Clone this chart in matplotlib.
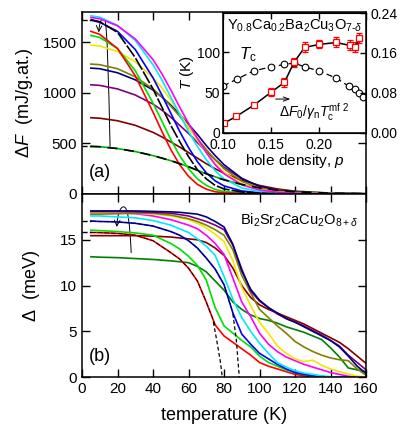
import numpy as np
import matplotlib
matplotlib.use('Agg')
import matplotlib.pyplot as plt
from matplotlib.path import Path
from matplotlib.patches import FancyArrowPatch

plt.rcParams['font.family'] = ['Liberation Sans', 'DejaVu Sans']
plt.rcParams['mathtext.fontset'] = 'custom'
plt.rcParams['mathtext.rm'] = 'Liberation Sans'
plt.rcParams['mathtext.it'] = 'Liberation Sans:italic'
plt.rcParams['mathtext.bf'] = 'Liberation Sans:bold'

# ---------------- panel (a): condensation free energy ----------------
T_a = [5, 10, 20, 30, 40, 45, 50, 55, 60, 65, 70, 75, 80, 90, 100, 110, 120, 140, 160]
F_cyan    = [1764, 1750, 1670, 1520, 1280, 1130, 960, 790, 620, 470, 340, 230, 150, 60, 25, 12, 6, 2, 0]
F_magenta = [1747, 1735, 1665, 1535, 1330, 1190, 1030, 860, 700, 550, 410, 290, 200, 90, 40, 18, 9, 3, 1]
F_black   = [1727, 1705, 1600, 1350, 1040, 860, 680, 520, 370, 240, 150, 85, 50, 20, 8, 4, 2, 0, 0]
F_blue    = [1720, 1700, 1610, 1430, 1150, 980, 800, 620, 460, 320, 210, 130, 80, 30, 12, 5, 3, 1, 0]
F_red     = [1610, 1580, 1440, 1170, 810, 620, 440, 290, 175, 95, 48, 22, 12, 6, 3, 2, 1, 0, 0]
F_green   = [1570, 1550, 1440, 1220, 900, 720, 540, 380, 250, 150, 85, 45, 25, 10, 5, 3, 2, 0, 0]
F_yellow  = [1474, 1465, 1410, 1310, 1150, 1050, 930, 800, 660, 530, 410, 300, 215, 100, 45, 20, 10, 3, 1]
F_olive   = [1286, 1280, 1240, 1160, 1040, 960, 870, 770, 660, 550, 440, 340, 250, 125, 60, 28, 14, 4, 1]
F_navy    = [1246, 1240, 1200, 1130, 1030, 960, 880, 790, 690, 590, 480, 380, 290, 155, 75, 35, 17, 5, 2]
F_purple  = [1081, 1075, 1040, 980, 890, 830, 760, 680, 600, 510, 420, 340, 265, 150, 75, 36, 18, 5, 2]
F_maroon  = [755, 750, 725, 680, 610, 565, 515, 465, 410, 355, 300, 250, 205, 135, 85, 50, 28, 9, 3]
F_green2  = [471, 468, 450, 420, 380, 355, 330, 300, 270, 235, 200, 170, 140, 95, 60, 37, 22, 8, 3]

# ---------------- panel (b): gap ----------------
T_b = [5, 10, 20, 30, 40, 50, 55, 60, 65, 70, 75, 80, 85, 90, 95, 100, 105, 110, 115, 120, 125, 130, 135, 140, 145, 150, 155, 160]
D_navy    = [18.15, 18.15, 18.15, 18.15, 18.1, 18.05, 18.0, 17.9, 17.8, 17.5, 17.0, 16.4, 14.5, 11.6, 9.6, 8.4, 7.6, 7.0, 6.4, 6.0, 5.5, 5.0, 4.5, 4.0, 3.3, 2.3, 1.2, 0.4]
D_purple  = [18.1, 18.1, 18.1, 18.05, 18.0, 17.9, 17.75, 17.6, 17.3, 17.0, 16.6, 16.1, 14.4, 11.8, 9.4, 8.3, 7.6, 6.9, 6.4, 6.0, 5.6, 5.1, 4.6, 4.0, 3.4, 2.4, 1.6, 0.8]
D_magenta = [18.0, 18.0, 17.95, 17.85, 17.6, 17.2, 16.9, 16.6, 16.2, 15.5, 14.6, 13.4, 10.8, 8.2, 6.6, 4.8, 3.6, 2.8, 2.2, 1.8, 1.4, 1.1, 0.8, 0.5, 0.3, 0.1, 0.0, 0.0]
D_yellow  = [17.9, 17.9, 17.9, 17.9, 17.8, 17.6, 17.4, 17.2, 16.8, 16.3, 15.6, 14.8, 12.7, 9.8, 7.8, 6.0, 4.8, 3.4, 2.6, 2.0, 1.7, 1.85, 1.3, 0.9, 0.6, 0.35, 0.1, 0.0]
D_olive   = [17.8, 17.8, 17.85, 17.9, 17.9, 17.7, 17.5, 17.3, 17.0, 16.6, 16.1, 15.5, 13.9, 11.1, 9.2, 7.4, 6.5, 5.6, 4.8, 3.9, 3.3, 2.8, 2.4, 2.1, 1.9, 1.8, 0.9, 0.2]
D_cyan    = [17.6, 17.6, 17.5, 17.4, 17.1, 16.6, 16.2, 15.8, 15.1, 14.3, 13.3, 11.0, 8.5, 6.5, 5.0, 3.7, 2.6, 1.6, 1.1, 0.7, 0.45, 0.3, 0.15, 0.05, 0.0, 0.0, 0.0, 0.0]
D_blue    = [17.05, 17.0, 16.95, 16.8, 16.5, 15.9, 15.5, 14.9, 14.1, 13.0, 11.8, 10.1, 7.0, 4.7, 3.6, 2.6, 2.0, 1.4, 0.9, 0.5, 0.3, 0.15, 0.05, 0.0, 0.0, 0.0, 0.0, 0.0]
D_green   = [16.05, 16.0, 15.9, 15.75, 15.5, 14.6, 14.0, 13.2, 12.2, 10.6, 7.6, 5.6, 4.8, 4.0, 3.3, 2.3, 1.6, 1.2, 0.8, 0.5, 0.3, 0.1, 0.0, 0.0, 0.0, 0.0, 0.0, 0.0]
D_red     = [15.8, 15.78, 15.7, 15.5, 14.9, 13.6, 12.9, 11.9, 10.5, 8.2, 5.7, 4.5, 3.8, 3.1, 2.4, 1.6, 1.2, 0.9, 0.6, 0.3, 0.15, 0.05, 0.0, 0.0, 0.0, 0.0, 0.0, 0.0]
D_maroon  = [15.45, 15.45, 15.45, 15.45, 15.4, 15.3, 15.2, 15.1, 15.0, 14.7, 14.1, 13.3, 11.9, 10.0, 8.7, 7.9, 7.4, 7.0, 6.6, 6.2, 5.8, 5.3, 4.8, 4.3, 3.8, 3.1, 2.3, 1.5]
D_dgreen  = [13.15, 13.1, 13.05, 12.95, 12.85, 12.7, 12.6, 12.5, 12.1, 11.5, 10.5, 9.5, 8.2, 7.4, 6.8, 6.4, 6.2, 5.9, 5.5, 5.2, 4.9, 4.5, 4.1, 3.2, 2.2, 1.0, 0.8, 0.6]

# dashed fits near Tc
T_redfit = [74, 76, 78, 79]
D_redfit = [6.0, 3.9, 1.6, 0.0]
T_bluefit = [85, 86.9, 87.8, 88.6]
D_bluefit = [6.9, 4.1, 1.9, 0.0]

# ---------------- inset: YCaBCO ----------------
p_tc = [0.100, 0.115, 0.132, 0.150, 0.164, 0.174, 0.185, 0.200, 0.218, 0.231, 0.237, 0.242, 0.246]
Tc   = [58, 67, 77, 82, 85, 87, 82, 77, 68, 58, 54, 50, 45]
p_sq = [0.101, 0.114, 0.132, 0.150, 0.164, 0.174, 0.185, 0.200, 0.218, 0.232, 0.238, 0.242]
dF0  = [0.019, 0.033, 0.055, 0.081, 0.101, 0.141, 0.171, 0.177, 0.181, 0.175, 0.172, 0.189]
dF0_err = [0.003, 0.003, 0.004, 0.008, 0.009, 0.009, 0.010, 0.008, 0.010, 0.010, 0.010, 0.010]

fig = plt.figure(figsize=(4.09, 4.34), dpi=100)
axa = fig.add_axes([0.2005, 0.553, 0.6945, 0.419])
axb = fig.add_axes([0.2005, 0.131, 0.6945, 0.422])

lw = 1.2
curves_a = [(F_maroon, '#800000'), (F_green2, '#00b000'), (F_purple, '#800080'),
            (F_navy, '#000080'), (F_olive, '#808000'), (F_yellow, '#f2e600'),
            (F_green, '#00e000'), (F_red, '#ff0000'), (F_blue, '#0000ff'),
            (F_cyan, '#00e8ff'), (F_magenta, '#ff00ff')]
for F, c in curves_a:
    axa.plot(T_a, F, color=c, lw=lw)
axa.plot(T_a, F_black, color='black', lw=lw, dashes=(8, 1.2))
axa.plot(T_a, F_green2, color='black', lw=lw, dashes=(6, 4))
axa.plot([0, T_a[0]], [F_black[0], F_black[0]], color='black', lw=1, ls='--')
axa.plot([0, T_a[0]], [F_green2[0], F_green2[0]], color='black', lw=1, ls='--')

curves_b = [(D_dgreen, '#008000'), (D_maroon, '#800000'), (D_red, '#ff0000'),
            (D_green, '#00e000'), (D_blue, '#0000ff'), (D_cyan, '#00e8ff'),
            (D_magenta, '#ff00ff'), (D_yellow, '#f2e600'), (D_olive, '#808000'),
            (D_purple, '#800080'), (D_navy, '#000080')]
for D, c in curves_b:
    axb.plot(T_b, D, color=c, lw=lw)
axb.plot(T_b[:11], D_red[:11], color='black', lw=0.6, dashes=(6, 2))
axb.plot(T_b[:13], D_blue[:13], color='black', lw=0.6, dashes=(6, 2))
axb.plot(T_redfit, D_redfit, color='black', lw=0.9, dashes=(3, 2))
axb.plot(T_bluefit, D_bluefit, color='black', lw=0.9, dashes=(3, 2))
axb.plot([0, T_b[0]], [D_blue[0], D_blue[0]], color='black', lw=1, ls='--')
axb.plot([0, T_b[0]], [D_red[0], D_red[0]], color='black', lw=1, ls='--')

for ax in (axa, axb):
    ax.set_xlim(0, 160)
    ax.set_xticks(np.arange(0, 161, 20))
    ax.tick_params(direction='in', length=6, width=1, top=True, right=True, labelsize=11)
    for s in ax.spines.values():
        s.set_linewidth(1.1)
axa.set_ylim(0, 1800)
axa.set_yticks([0, 500, 1000, 1500])
axa.tick_params(labelbottom=False)
axb.set_ylim(0, 20)
axb.set_yticks([0, 5, 10, 15])

axa.set_ylabel(r'$\Delta F$  (mJ/g.at.)', fontsize=13)
axa.yaxis.set_label_coords(-0.165, 0.5)
axb.set_ylabel(r'$\Delta$  (meV)', fontsize=13)
axb.yaxis.set_label_coords(-0.14, 0.5)
axb.set_xlabel('temperature (K)', fontsize=13, labelpad=8)

axa.text(4, 210, '(a)', fontsize=13, va='center')
axb.text(4, 2.3, '(b)', fontsize=13, va='center')
axb.text(89, 17.1, r'Bi$_2$Sr$_2$CaCu$_2$O$_{8+\delta}$', fontsize=10.5, va='center')

# curled arrows showing doping direction
hook_a = Path([(15.8, 470), (15.0, 1100), (14.2, 1690), (12.8, 1725),
               (11.2, 1760), (9.8, 1700), (9.4, 1600)],
              [Path.MOVETO, Path.CURVE4, Path.CURVE4, Path.CURVE4,
               Path.CURVE4, Path.CURVE4, Path.CURVE4])
axa.add_patch(FancyArrowPatch(path=hook_a, arrowstyle='->,head_length=4,head_width=2',
                              lw=0.7, color='black', transform=axa.transData))
hook_b = Path([(27.7, 13.6), (27.0, 16.5), (26.0, 18.6), (23.5, 18.6),
               (21.5, 18.6), (20.0, 17.8), (19.6, 16.4)],
              [Path.MOVETO, Path.CURVE4, Path.CURVE4, Path.CURVE4,
               Path.CURVE4, Path.CURVE4, Path.CURVE4])
axb.add_patch(FancyArrowPatch(path=hook_b, arrowstyle='->,head_length=4,head_width=2',
                              lw=0.7, color='black', transform=axb.transData))

# inset
axi = fig.add_axes([0.545, 0.694, 0.35, 0.276])
axi2 = axi.twinx()
axi.plot(p_tc, Tc, color='black', lw=0.9, dashes=(5, 3), marker='o', ms=4.8,
         mfc='white', mec='black', mew=0.8)
axi2.errorbar(p_sq, dF0, yerr=dF0_err, color='black', lw=1.1, marker='s', ms=4.4,
              mfc='white', mec='red', mew=0.9, ecolor='red', elinewidth=1.0, capsize=2)
axi.set_xlim(0.1, 0.249)
axi.set_ylim(0, 149)
axi2.set_ylim(0, 0.24)
axi.set_xticks([0.10, 0.15, 0.20])
axi.set_yticks([0, 50, 100])
axi2.set_yticks([0, 0.08, 0.16, 0.24])
axi.tick_params(direction='in', length=4, width=1, top=True, labelsize=10, pad=2)
axi.tick_params(axis='x', pad=3.5)
axi2.tick_params(direction='in', length=4, width=1, labelsize=10, pad=3)
axi.set_yticklabels(['0', '50', '100'])
axi.set_xticklabels(['0.10', '0.15', '0.20'])
axi2.set_yticklabels(['0.00', '0.08', '0.16', '0.24'])
for s in axi.spines.values():
    s.set_linewidth(1.1)
axi.set_xlabel(r'hole density, $p$', fontsize=11, labelpad=0)
axi.set_ylabel(r'$T$ (K)', fontsize=11, labelpad=1)
axi.text(0.104, 133, r'Y$_{0.8}$Ca$_{0.2}$Ba$_2$Cu$_3$O$_{7\text{-}\delta}$', fontsize=10.5, va='center')
axi.text(0.117, 97, r'$T_{\rm c}$', fontsize=12, va='center')
axi.annotate('', xy=(0.173, 42), xytext=(0.152, 42),
             arrowprops=dict(arrowstyle='->,head_length=0.4,head_width=0.15', lw=0.7))
axi.text(0.158, 26, r'$\Delta F_0/\gamma_{\rm n}T_{\rm c}^{\rm mf\ 2}$', fontsize=10, va='center')

fig.savefig('out.png', dpi=100)
